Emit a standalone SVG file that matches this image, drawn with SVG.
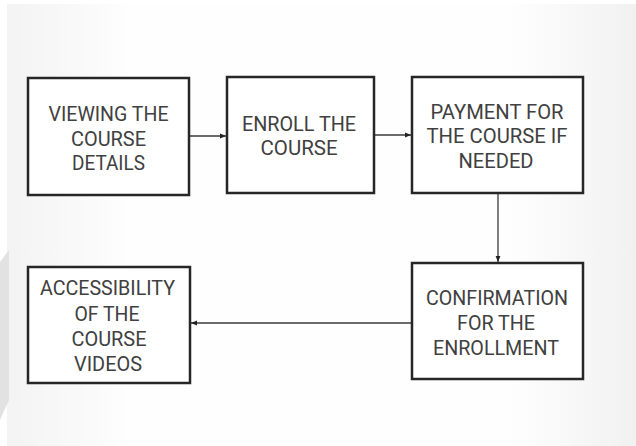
<svg xmlns="http://www.w3.org/2000/svg" width="636" height="446" viewBox="0 0 636 446">
  <defs>
    <linearGradient id="bg" x1="0" y1="0" x2="1" y2="0">
      <stop offset="0" stop-color="#f3f3f3"/>
      <stop offset="0.2" stop-color="#fefefe"/>
      <stop offset="0.8" stop-color="#fefefe"/>
      <stop offset="1" stop-color="#f1f1f1"/>
    </linearGradient>
    <marker id="arr" viewBox="0 0 10 10" refX="10" refY="5" markerWidth="6" markerHeight="6" orient="auto" markerUnits="userSpaceOnUse">
      <path d="M0,1 L10,5 L0,9 Z" fill="#222"/>
    </marker>
    <style>
      .box { fill: #ffffff; stroke: #262626; stroke-width: 2.5; }
      .lbl { font-family: Roboto, "Liberation Sans", sans-serif; font-size: 20px; fill: #404040; text-anchor: middle; }
      .conn { stroke: #3a3a3a; stroke-width: 1.3; fill: none; marker-end: url(#arr); }
    </style>
  </defs>
  <rect x="0" y="0" width="636" height="446" fill="#ffffff"/>
  <rect x="7" y="4" width="629" height="442" fill="url(#bg)"/>
  <path d="M0,262 L9,250 L9,400 L0,420 Z" fill="#e2e2e2"/>

  <g id="connectors">
    <line class="conn" x1="189" y1="136" x2="226" y2="136"/>
    <line class="conn" x1="374" y1="135" x2="411" y2="135"/>
    <line class="conn" x1="498" y1="193" x2="498" y2="262"/>
    <line class="conn" x1="412" y1="323" x2="191" y2="323"/>
  </g>

  <g id="node-viewing">
    <rect class="box" x="28" y="78" width="161" height="117"/>
    <text class="lbl" x="108.5" y="121" textLength="120" lengthAdjust="spacingAndGlyphs">VIEWING THE</text>
    <text class="lbl" x="108.5" y="146" textLength="75" lengthAdjust="spacingAndGlyphs">COURSE</text>
    <text class="lbl" x="108.5" y="170" textLength="73" lengthAdjust="spacingAndGlyphs">DETAILS</text>
  </g>

  <g id="node-enroll">
    <rect class="box" x="227" y="77" width="147" height="116"/>
    <text class="lbl" x="299" y="131" textLength="114" lengthAdjust="spacingAndGlyphs">ENROLL THE</text>
    <text class="lbl" x="299" y="155" textLength="77" lengthAdjust="spacingAndGlyphs">COURSE</text>
  </g>

  <g id="node-payment">
    <rect class="box" x="412" y="77" width="171" height="116"/>
    <text class="lbl" x="497" y="119" textLength="133" lengthAdjust="spacingAndGlyphs">PAYMENT FOR</text>
    <text class="lbl" x="497" y="143" textLength="141" lengthAdjust="spacingAndGlyphs">THE COURSE IF</text>
    <text class="lbl" x="496" y="168" textLength="75" lengthAdjust="spacingAndGlyphs">NEEDED</text>
  </g>

  <g id="node-confirmation">
    <rect class="box" x="412" y="263" width="171" height="116"/>
    <text class="lbl" x="497" y="305" textLength="142" lengthAdjust="spacingAndGlyphs">CONFIRMATION</text>
    <text class="lbl" x="496" y="330" textLength="78" lengthAdjust="spacingAndGlyphs">FOR THE</text>
    <text class="lbl" x="496" y="355" textLength="126" lengthAdjust="spacingAndGlyphs">ENROLLMENT</text>
  </g>

  <g id="node-accessibility">
    <rect class="box" x="28" y="267" width="162" height="116"/>
    <text class="lbl" x="107.5" y="295" textLength="135" lengthAdjust="spacingAndGlyphs">ACCESSIBILITY</text>
    <text class="lbl" x="107" y="321" textLength="65" lengthAdjust="spacingAndGlyphs">OF THE</text>
    <text class="lbl" x="109" y="346" textLength="75" lengthAdjust="spacingAndGlyphs">COURSE</text>
    <text class="lbl" x="108" y="371" textLength="68" lengthAdjust="spacingAndGlyphs">VIDEOS</text>
  </g>
</svg>
